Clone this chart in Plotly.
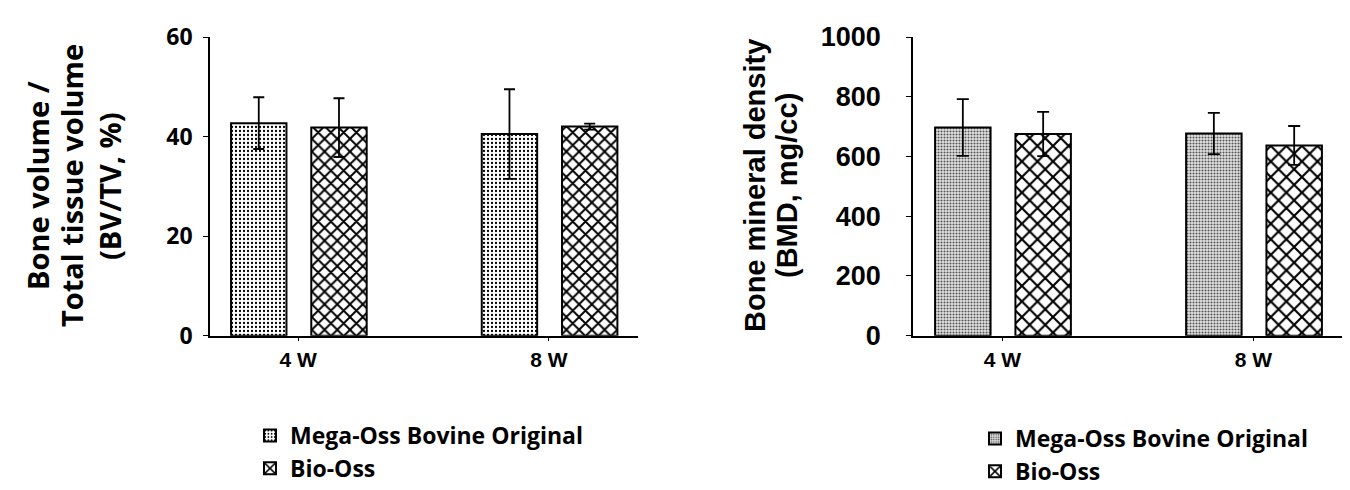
import plotly.graph_objects as go

categories = ["4 W", "8 W"]
series_names = ["Mega-Oss Bovine Original", "Bio-Oss"]

# Left panel: BV/TV (%)
bv_mega = [42.7, 40.5]
bv_mega_err = [5.2, 9.0]
bv_bio = [41.8, 42.0]
bv_bio_err = [5.9, 0.6]
bv_ticks = [0, 20, 40, 60]

# Right panel: BMD (mg/cc)
bmd_mega = [697, 677]
bmd_mega_err = [95, 69]
bmd_bio = [675, 637]
bmd_bio_err = [74, 65]
bmd_ticks = [0, 200, 400, 600, 800, 1000]

W, H = 1350, 490
OPEN = "Open Sans"
ARIAL = "Liberation Sans, Arial"

fig = go.Figure()

bar_w = 0.221
offsets = [-0.268, 0.052]

def add_bar(x, y, err, name, pattern, xa, ya, legend, err_w):
    fig.add_trace(go.Bar(
        x=x, y=y, name=name, xaxis=xa, yaxis=ya, legend=legend,
        width=bar_w, offset=pattern.pop("offset"),
        marker=dict(color="white", line=dict(color="black", width=2), pattern=pattern),
        error_y=dict(type="data", array=err, visible=True, color="black", thickness=1.8, width=err_w),
        showlegend=True,
    ))

add_bar(categories, bv_mega, bv_mega_err, series_names[0],
        dict(shape=".", fgcolor="black", bgcolor="white", size=4, solidity=0.25, fillmode="replace", offset=offsets[0]),
        "x", "y", "legend", 5.5)
add_bar(categories, bv_bio, bv_bio_err, series_names[1],
        dict(shape="x", fgcolor="black", bgcolor="white", size=9, solidity=0.38, fillmode="replace", offset=offsets[1]),
        "x", "y", "legend", 5.5)
add_bar(categories, bmd_mega, bmd_mega_err, series_names[0],
        dict(shape=".", fgcolor="#555555", bgcolor="#e6e6e6", size=3, solidity=0.4, fillmode="replace", offset=offsets[0]),
        "x2", "y2", "legend2", 6)
add_bar(categories, bmd_bio, bmd_bio_err, series_names[1],
        dict(shape="x", fgcolor="black", bgcolor="white", size=11, solidity=0.35, fillmode="replace", offset=offsets[1]),
        "x2", "y2", "legend2", 6)

ydom = [1 - 335.7 / H, 1 - 37 / H]
axis_common = dict(showgrid=False, zeroline=False, showline=True, linecolor="black", linewidth=1.5,
                   ticks="outside", tickcolor="black", tickwidth=1.2)

fig.update_layout(
    width=W, height=H, margin=dict(l=0, r=0, t=0, b=0, autoexpand=False),
    paper_bgcolor="white", plot_bgcolor="white", barmode="overlay",
    xaxis=dict(domain=[210 / W, 637.7 / W], anchor="y", type="category", range=[-0.352, 1.354],
               ticklen=4, tickfont=dict(family=ARIAL, size=21, color="black", weight="bold"), **axis_common),
    yaxis=dict(domain=ydom, anchor="x", range=[0, 60], tickvals=bv_ticks, ticklen=5, ticklabelstandoff=6,
               tickfont=dict(family=OPEN, size=23, color="black", weight="bold"), **axis_common),
    xaxis2=dict(domain=[913 / W, 1342 / W], anchor="y2", type="category", range=[-0.356, 1.353],
                ticklen=4, tickfont=dict(family=ARIAL, size=21, color="black", weight="bold"), **axis_common),
    yaxis2=dict(domain=ydom, anchor="x2", range=[0, 1000], tickvals=bmd_ticks, ticklen=5, ticklabelstandoff=20,
                tickfont=dict(family=ARIAL, size=27, color="black", weight="bold"), **axis_common),
    legend=dict(x=250 / W, y=1 - 414 / H, xanchor="left", yanchor="top",
                font=dict(family=OPEN, size=23, color="black", weight="bold"), bgcolor="rgba(0,0,0,0)"),
    legend2=dict(x=975 / W, y=1 - 417 / H, xanchor="left", yanchor="top",
                 font=dict(family=OPEN, size=23, color="black", weight="bold"), bgcolor="rgba(0,0,0,0)"),
)

ycen = 1 - 186 / H
left_title = [("Bone volume /", 37), ("Total tissue volume", 71), ("(BV/TV, %)", 109)]
for txt, px in left_title:
    fig.add_annotation(text=txt, x=px / W, y=ycen, xref="paper", yref="paper", textangle=-90,
                       showarrow=False, xanchor="center", yanchor="middle",
                       font=dict(family=OPEN, size=29, color="black", weight="bold"))
right_title = [("Bone mineral density", 755), ("(BMD, mg/cc)", 787)]
for txt, px in right_title:
    fig.add_annotation(text=txt, x=px / W, y=ycen, xref="paper", yref="paper", textangle=-90,
                       showarrow=False, xanchor="center", yanchor="middle",
                       font=dict(family=ARIAL, size=29, color="black", weight="bold"))

fig.write_html("out.html")
